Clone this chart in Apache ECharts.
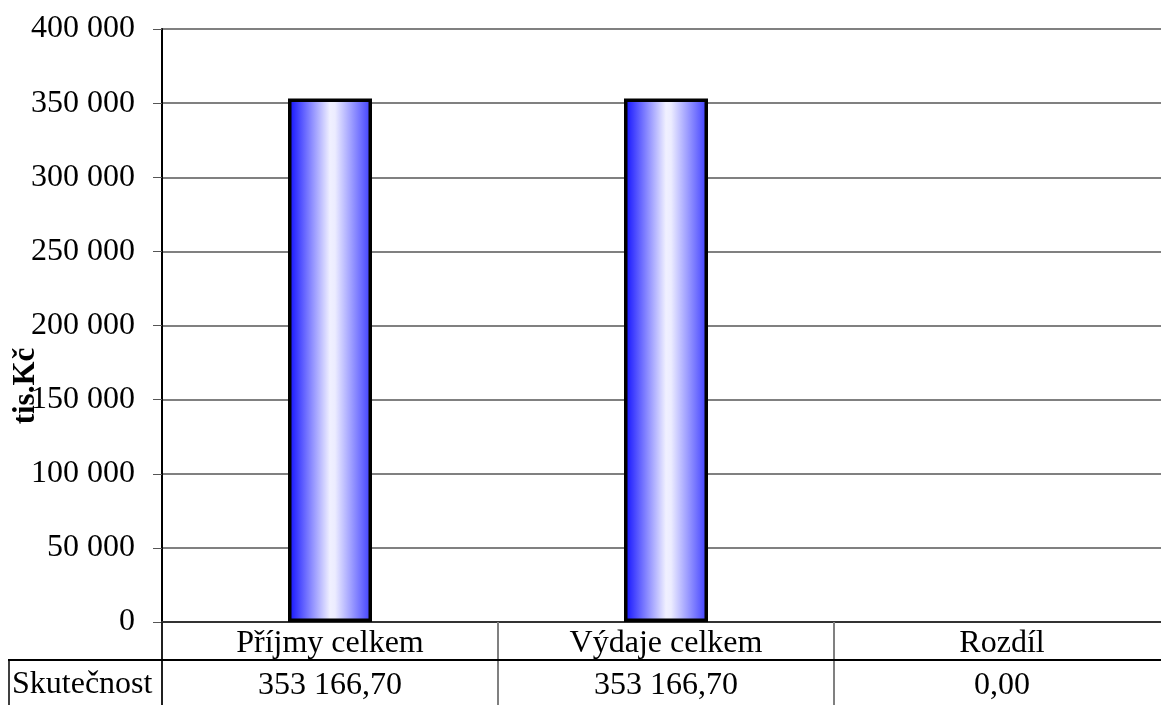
<!DOCTYPE html>
<html>
<head>
<meta charset="utf-8">
<script src="https://cdn.jsdelivr.net/npm/echarts@6/dist/echarts.min.js"></script>
<style>html,body{margin:0;padding:0;background:#fff}#c{width:1161px;height:705px}</style>
</head>
<body>
<div id="c"></div>
<script>
const categories = ['Příjmy celkem', 'Výdaje celkem', 'Rozdíl'];
const values = [353166.70, 353166.70, 0.00];
const seriesName = 'Skutečnost';
const yTicks = { min: 0, max: 400000, interval: 50000 };
const yTitle = 'tis.Kč';

function fmtInt(v) {
  return String(Math.round(v)).replace(/\B(?=(\d{3})+(?!\d))/g, ' ');
}
function fmtDec(v) {
  const parts = v.toFixed(2).split('.');
  return parts[0].replace(/\B(?=(\d{3})+(?!\d))/g, ' ') + ',' + parts[1];
}

const FONT = '"Liberation Serif", "Times New Roman", serif';
const gradient = new echarts.graphic.LinearGradient(0, 0, 1, 0, [
  { offset: 0, color: '#0c0cff' },
  { offset: 0.5, color: '#f0f0ff' },
  { offset: 0.56, color: '#ececff' },
  { offset: 1, color: '#3a3aff' }
]);
const chart = echarts.init(document.getElementById('c'), null, { renderer: 'canvas' });
chart.setOption({
  animation: false,
  backgroundColor: '#fff',
  grid: { left: 162, top: 29, width: 1008, height: 593, containLabel: false, outerBoundsMode: 'none' },
  xAxis: {
    type: 'category',
    data: categories,
    axisLine: { show: true, lineStyle: { color: '#333', width: 2 } },
    axisTick: { show: true, alignWithLabel: false, length: 90, lineStyle: { color: '#808080', width: 2 } },
    axisLabel: {
      margin: 1,
      interval: 0,
      fontFamily: FONT,
      fontSize: 32,
      color: '#000',
      lineHeight: 42,
      formatter: function (v, i) { return v + '\n' + fmtDec(values[i]); }
    },
    splitLine: { show: false }
  },
  yAxis: {
    type: 'value',
    min: yTicks.min, max: yTicks.max, interval: yTicks.interval,
    axisLine: { show: true, lineStyle: { color: '#000', width: 2 } },
    axisTick: { show: true, length: 9, lineStyle: { color: '#555', width: 1 } },
    axisLabel: { margin: 27, fontFamily: FONT, fontSize: 32, color: '#000', formatter: fmtInt },
    splitLine: { show: true, lineStyle: { color: '#808080', width: 2 } }
  },
  series: [{
    name: seriesName,
    type: 'bar',
    data: values.map(function (v) {
      return { value: v, itemStyle: { borderWidth: v === 0 ? 0 : 3.5 } };
    }),
    barWidth: 84,
    itemStyle: { borderColor: '#000', borderWidth: 3.5, color: gradient }
  }],
  graphic: [
    { type: 'line', shape: { x1: 8, y1: 660, x2: 1161, y2: 660 }, style: { stroke: '#000', lineWidth: 2 }, z: 10 },
    { type: 'line', shape: { x1: 9, y1: 660, x2: 9, y2: 705 }, style: { stroke: '#000', lineWidth: 1.5 }, z: 10 },
    { type: 'line', shape: { x1: 162, y1: 622, x2: 162, y2: 705 }, style: { stroke: '#000', lineWidth: 1.5 }, z: 10 },
    { type: 'text', x: 12, y: 669, style: { text: seriesName, font: '32px ' + FONT, fill: '#000' }, z: 10 },
    { type: 'text', x: 26, y: 386, rotation: Math.PI / 2,
      style: { text: yTitle, font: 'bold 31px ' + FONT, fill: '#000', align: 'center', verticalAlign: 'middle' }, z: 10 }
  ]
});
</script>
</body>
</html>
